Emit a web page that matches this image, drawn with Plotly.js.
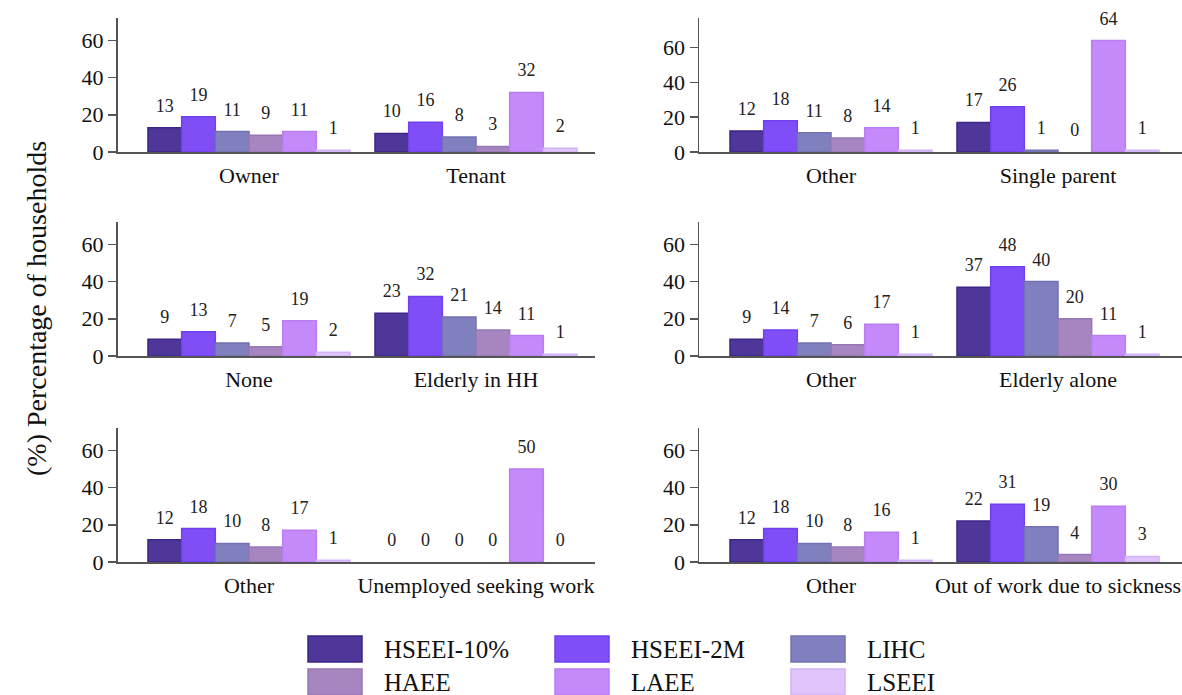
<!DOCTYPE html>
<html>
<head>
<meta charset="utf-8">
<script src="https://cdn.plot.ly/plotly-3.0.1.min.js"></script>
<style>html,body{margin:0;padding:0;background:#fff;}#chart{width:1182px;height:695px;}</style>
</head>
<body>
<div id="chart"></div>
<script>
// ---- data ----
const seriesNames = ['HSEEI-10%', 'HSEEI-2M', 'LIHC', 'HAEE', 'LAEE', 'LSEEI'];
const fillColors = ['#4f3699', '#7f4ef7', '#8180bf', '#a685c0', '#c48afa', '#dfc5fb'];
const lineColors = ['#3e2587', '#7040ef', '#7271b3', '#9877b5', '#b97cf2', '#d3b3f8'];

const cats1 = ['Owner', 'Tenant'];
const vals1 = [[13, 10], [19, 16], [11, 8], [9, 3], [11, 32], [1, 2]];

const cats2 = ['Other', 'Single parent'];
const vals2 = [[12, 17], [18, 26], [11, 1], [8, 0], [14, 64], [1, 1]];

const cats3 = ['None', 'Elderly in HH'];
const vals3 = [[9, 23], [13, 32], [7, 21], [5, 14], [19, 11], [2, 1]];

const cats4 = ['Other', 'Elderly alone'];
const vals4 = [[9, 37], [14, 48], [7, 40], [6, 20], [17, 11], [1, 1]];

const cats5 = ['Other', 'Unemployed seeking work'];
const vals5 = [[12, 0], [18, 0], [10, 0], [8, 0], [17, 50], [1, 0]];

const cats6 = ['Other', 'Out of work due to sickness'];
const vals6 = [[12, 22], [18, 31], [10, 19], [8, 4], [16, 30], [1, 3]];

const yTitle = '(%) Percentage of households';
const yTicks = [0, 20, 40, 60];

// ---- layout helpers ----
const W = 1182, H = 695;
const FONT = '"Liberation Serif", "Times New Roman", Times, serif';
const px2x = p => p / W;
const px2y = p => 1 - p / H;

const panels = [
  {cats: cats1, vals: vals1, xd: [117.5, 595], yd: [18, 152], yr: 72},
  {cats: cats2, vals: vals2, xd: [699, 1182], yd: [18, 152], yr: 77},
  {cats: cats3, vals: vals3, xd: [117.5, 595], yd: [222, 356], yr: 72},
  {cats: cats4, vals: vals4, xd: [699, 1182], yd: [222, 356], yr: 72},
  {cats: cats5, vals: vals5, xd: [117.5, 595], yd: [428, 562], yr: 72},
  {cats: cats6, vals: vals6, xd: [699, 1182], yd: [428, 562], yr: 72}
];

const traces = [];
const layout = {
  width: W, height: H,
  margin: {l: 0, r: 0, t: 0, b: 0},
  paper_bgcolor: '#fff', plot_bgcolor: '#fff',
  barmode: 'group', bargap: 0.11, bargroupgap: 0,
  showlegend: false,
  font: {family: FONT, color: '#111'},
  shapes: [], annotations: []
};

panels.forEach((p, k) => {
  const n = k + 1;
  const xa = 'x' + (n === 1 ? '' : n), ya = 'y' + (n === 1 ? '' : n);
  const slot = 227;
  const x0 = p.xd[0], x1 = p.xd[1];
  const catPos0 = (p.xd[0] === 117.5) ? 249 : 831;
  layout['xaxis' + (n === 1 ? '' : n)] = {
    domain: [px2x(x0), px2x(x1)],
    anchor: ya,
    range: [(x0 - catPos0) / slot, (x1 - catPos0) / slot],
    showline: true, linecolor: '#555', linewidth: 1.5,
    ticks: '', showgrid: false, zeroline: false,
    tickfont: {family: FONT, size: 22, color: '#111'},
    ticklabelstandoff: 3,
    fixedrange: true
  };
  const padUnits = 9 * p.yr / 134;
  layout['yaxis' + (n === 1 ? '' : n)] = {
    domain: [px2y(p.yd[1]), px2y(p.yd[0])],
    anchor: xa,
    range: [0, p.yr],
    tickvals: yTicks,
    ticks: 'outside', ticklen: 8, tickwidth: 1.5, tickcolor: '#555',
    showline: true, linecolor: '#555', linewidth: 1.5,
    showgrid: false, zeroline: false,
    tickfont: {family: FONT, size: 22, color: '#111'},
    fixedrange: true
  };
  seriesNames.forEach((s, i) => {
    traces.push({
      type: 'bar', x: p.cats, y: p.vals[i], name: s,
      xaxis: xa, yaxis: ya, offsetgroup: s,
      marker: {color: fillColors[i],
               line: {color: lineColors[i], width: p.vals[i].map(v => v > 0 ? 1.5 : 0)}},
      hoverinfo: 'x+y+name'
    });
    traces.push({
      type: 'bar', x: p.cats, y: p.vals[i], base: padUnits, name: s + ' label',
      xaxis: xa, yaxis: ya, offsetgroup: s,
      marker: {color: 'rgba(0,0,0,0)', line: {width: 0}},
      text: p.vals[i].map(v => String(v)),
      textposition: 'outside', cliponaxis: false, constraintext: 'none',
      textfont: {family: FONT, size: 18, color: '#222'},
      hoverinfo: 'skip', showlegend: false
    });
  });
});

// y-axis title
layout.annotations.push({
  xref: 'paper', yref: 'paper', x: px2x(36), y: px2y(309),
  text: yTitle, textangle: -90, showarrow: false,
  font: {family: FONT, size: 28, color: '#111'},
  xanchor: 'center', yanchor: 'middle'
});

// legend (3 columns x 2 rows)
const legCols = [308, 555, 791];
const legRows = [636, 669];
seriesNames.forEach((s, i) => {
  const c = i % 3, r = Math.floor(i / 3);
  const sx = legCols[c], sy = legRows[r];
  layout.shapes.push({
    type: 'rect', xref: 'paper', yref: 'paper',
    x0: px2x(sx), x1: px2x(sx + 54), y0: px2y(sy + 26), y1: px2y(sy),
    fillcolor: fillColors[i], line: {color: lineColors[i], width: 1.5}
  });
  layout.annotations.push({
    xref: 'paper', yref: 'paper', x: px2x(sx + 74), y: px2y(sy + 13),
    text: s, showarrow: false, xanchor: 'left', yanchor: 'middle',
    font: {family: FONT, size: 25, color: '#111'}
  });
});

Plotly.newPlot('chart', traces, layout, {displayModeBar: false, staticPlot: true});
</script>
</body>
</html>
